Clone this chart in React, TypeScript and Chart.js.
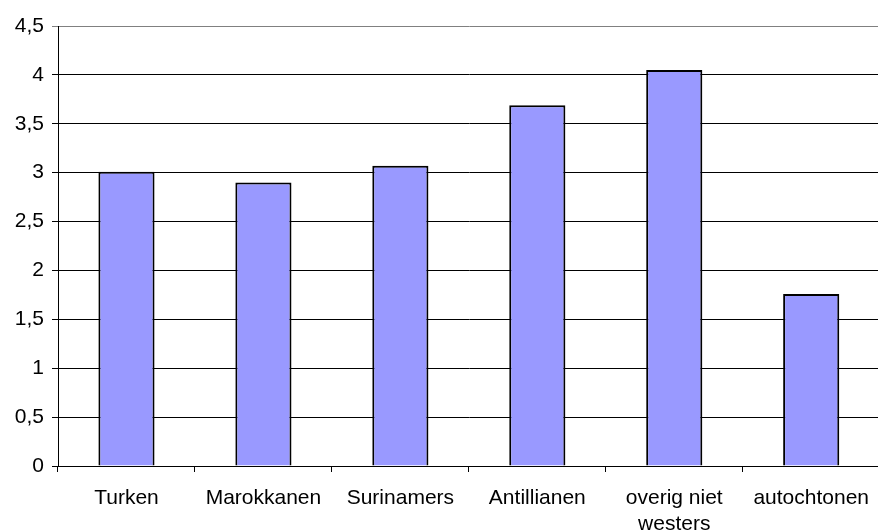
import React, { useEffect, useRef } from "react";
import { Chart, registerables } from "chart.js";

Chart.register(...registerables);

const categories: (string | string[])[] = [
  "Turken",
  "Marokkanen",
  "Surinamers",
  "Antillianen",
  ["overig niet", "westers"],
  "autochtonen",
];
const values = [3.01, 2.9, 3.07, 3.69, 4.05, 1.76];
const yMin = 0;
const yMax = 4.5;
const yStep = 0.5;

export default function App() {
  const ref = useRef<HTMLCanvasElement | null>(null);
  useEffect(() => {
    document.body.style.margin = "0";
    const ctx = ref.current!;
    const chart = new Chart(ctx, {
      type: "bar",
      data: {
        labels: categories,
        datasets: [
          {
            data: values,
            backgroundColor: "#9999FF",
            borderColor: "#000000",
            borderWidth: 2,
            categoryPercentage: 1,
            barPercentage: 0.41,
          },
        ],
      },
      options: {
        animation: false,
        responsive: false,
        maintainAspectRatio: false,
        layout: { padding: { top: 26, right: 0, left: 0, bottom: 0 } },
        plugins: { legend: { display: false }, tooltip: { enabled: false } },
        scales: {
          x: {
            grid: {
              offset: true,
              drawOnChartArea: false,
              drawTicks: true,
              tickLength: 6,
              color: "#000000",
            },
            border: { display: true, color: "#000000", width: 1 },
            ticks: {
              color: "#000000",
              font: { family: "Liberation Sans, Arial, sans-serif", size: 21 },
              padding: 14,
              maxRotation: 0,
              autoSkip: false,
            },
            afterFit: (s: any) => {
              s.height = 64;
            },
          },
          y: {
            min: yMin,
            max: yMax,
            grid: {
              color: (c: any) => (c.tick && c.tick.value === yMax ? "#808080" : "#000000"),
              tickLength: 6,
              lineWidth: 1,
            },
            border: { display: true, color: "#000000", width: 1 },
            ticks: {
              stepSize: yStep,
              color: "#000000",
              padding: 8,
              font: { family: "Liberation Sans, Arial, sans-serif", size: 21 },
              callback: (v: any) => String(v).replace(".", ","),
            },
            afterFit: (s: any) => {
              s.width = 58;
            },
          },
        },
      },
    });
    return () => chart.destroy();
  }, []);
  return (
    <div style={{ position: "fixed", left: 0, top: 0, width: 878, height: 530, overflow: "hidden", background: "#fff" }}>
      <canvas ref={ref} width={883} height={530} style={{ width: 883, height: 530, display: "block" }} />
    </div>
  );
}
